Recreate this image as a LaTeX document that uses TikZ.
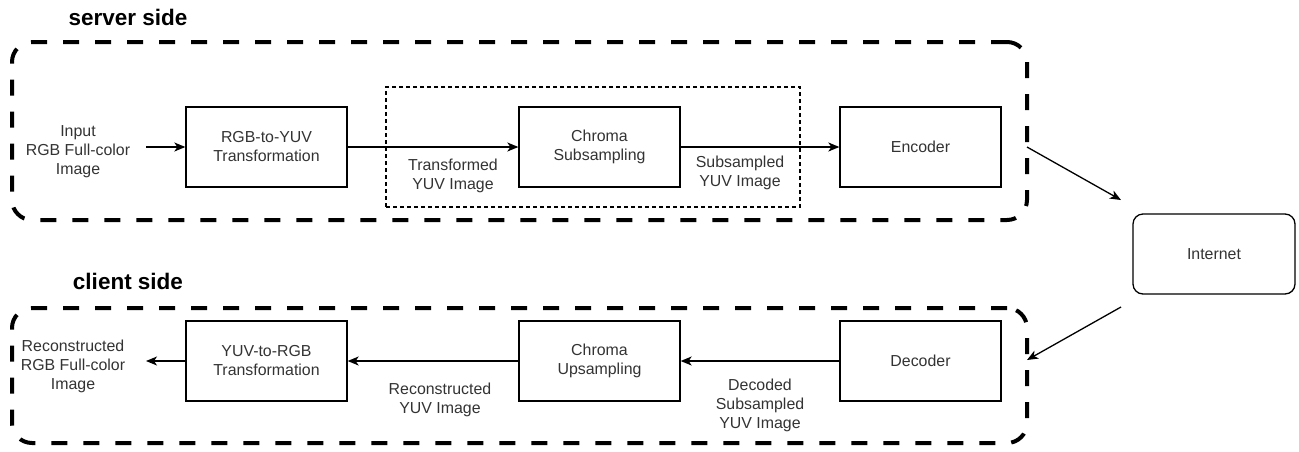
\documentclass[tikz,border=0pt]{standalone}
\usepackage{fontspec}
\setmainfont{Liberation Sans}
\usetikzlibrary{arrows.meta}
\definecolor{txt}{HTML}{333333}
\begin{document}
\begin{tikzpicture}[x=1pt,y=-1pt,
  font=\fontsize{15.9}{19}\selectfont,
  box/.style={draw=black,line width=1.3pt,minimum width=161pt,minimum height=80pt,align=center,text=txt,inner sep=0pt},
  lbl/.style={align=center,text=txt,inner sep=0pt},
  grpbox/.style={draw=black,line width=1.3pt,dash pattern=on 4pt off 3pt,minimum width=414pt,minimum height=120pt,inner sep=0pt},
  side/.style={draw=black,line width=4pt,dash pattern=on 16pt off 16pt,rounded corners=20pt,minimum width=1015pt,inner sep=0pt},
  title/.style={font=\fontsize{22.5}{27}\selectfont\bfseries,inner sep=0pt},
  arr/.style={draw=black,line width=1.3pt,-{Stealth[length=11pt,width=9pt,inset=3pt]}},
  net/.style={draw=black,line width=1.3pt,-{Stealth[length=11pt,width=9pt,inset=3pt]}}
]
\useasboundingbox (0,0) rectangle (1299,451);
% containers
\node[side,minimum height=178pt] (server) at (519.5,131) {};
\node[side,minimum height=135pt] (client) at (519.5,375.5) {};
\node[title] (st) at (128,17) {server side};
\node[title] (ct) at (128,281) {client side};
\node[grpbox] (grp) at (593,147) {};
% server row
\node[lbl] (in) at (78,152) {Input\\RGB Full-color\\Image};
\node[box] (rgb) at (266.5,147) {RGB-to-YUV\\Transformation};
\node[box] (sub) at (599.5,147) {Chroma\\Subsampling};
\node[box] (enc) at (920.5,147) {Encoder};
\node[lbl] (l1) at (453,176) {Transformed\\YUV Image};
\node[lbl] (l2) at (740,173) {Subsampled\\YUV Image};
% internet
\node[box,rounded corners=10pt,minimum width=162pt] (net) at (1214,254) {Internet};
% client row
\node[box] (dec) at (920.5,361) {Decoder};
\node[box] (ups) at (599.5,361) {Chroma\\Upsampling};
\node[box] (y2r) at (266.5,361) {YUV-to-RGB\\Transformation};
\node[lbl] (out) at (73,366) {Reconstructed\\RGB Full-color\\Image};
\node[lbl] (l3) at (440,400) {Reconstructed\\YUV Image};
\node[lbl] (l4) at (760,405) {Decoded\\Subsampled\\YUV Image};
% coordinates
\coordinate (inE) at (146,147);
\coordinate (outE) at (146,361);
\coordinate (e1) at (1027,147);
\coordinate (e2) at (1121,200);
\coordinate (i1) at (1121,307);
\coordinate (i2) at (1027,360);
% connectors
\draw[arr] (inE) -- (rgb.west);
\draw[arr] (rgb.east) -- (sub.west);
\draw[arr] (sub.east) -- (enc.west);
\draw[net] (e1) -- (e2);
\draw[net] (i1) -- (i2);
\draw[arr] (dec.west) -- (ups.east);
\draw[arr] (ups.west) -- (y2r.east);
\draw[arr] (y2r.west) -- (outE);
\end{tikzpicture}
\end{document}
